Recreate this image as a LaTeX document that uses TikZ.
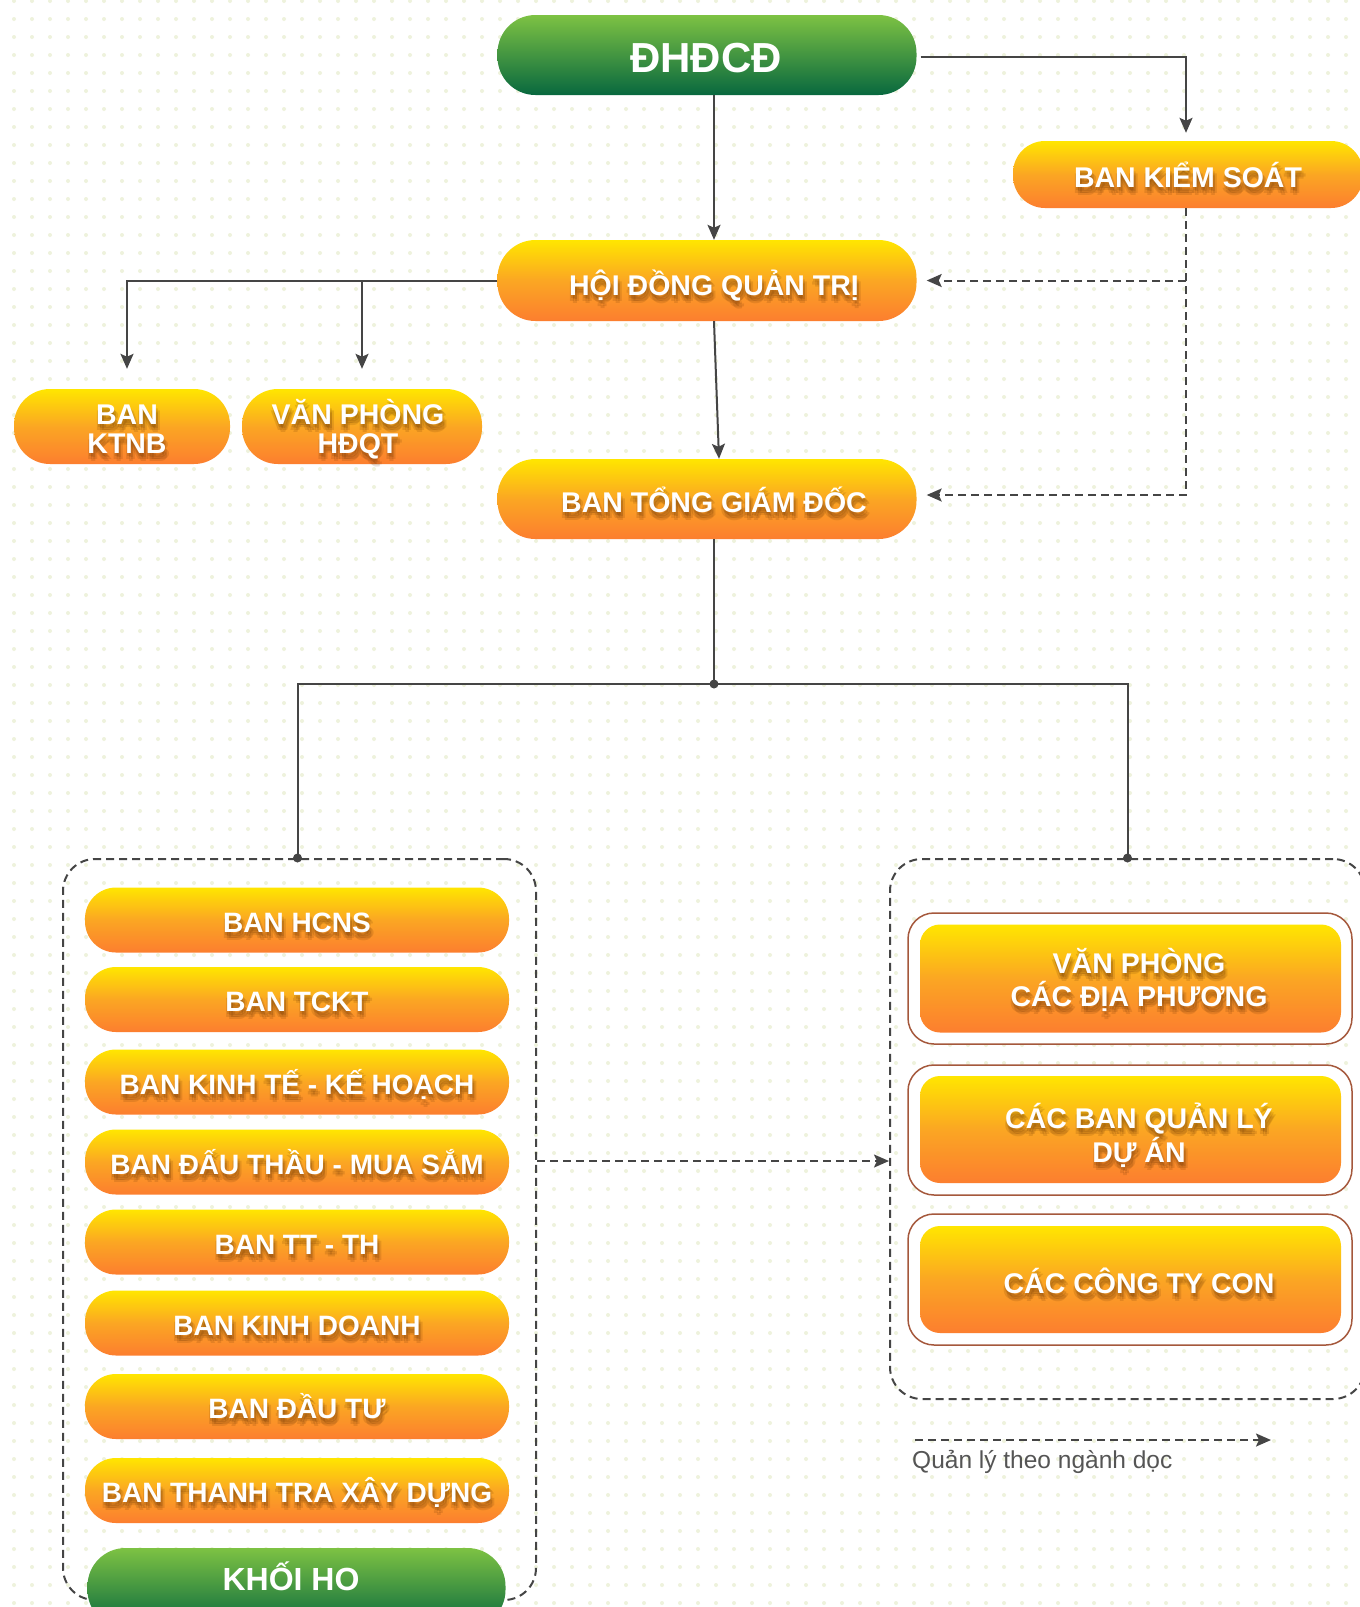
\documentclass[tikz,border=0pt]{standalone}
\usepackage{fontspec}
\setmainfont{Liberation Sans}
\usetikzlibrary{arrows.meta, positioning, calc}
\definecolor{CYellow}{HTML}{FFE600}
\definecolor{COrangeMid}{HTML}{FBA623}
\definecolor{COrange}{HTML}{FC7E2F}
\definecolor{CGreenTop}{HTML}{7DC243}
\definecolor{CGreenBot}{HTML}{08683F}
\definecolor{CLine}{HTML}{454545}
\definecolor{CDot}{HTML}{EEF2DC}
\definecolor{CFrame}{HTML}{A5583C}
\definecolor{CShadow}{HTML}{5A2800}
\definecolor{CLegend}{HTML}{555555}

\tikzset{
    orgpill/.style={rectangle, inner sep=0pt, draw=none,
        top color=CYellow, bottom color=COrange, middle color=COrangeMid},
    greenpill/.style={rectangle, inner sep=0pt, draw=none,
        top color=CGreenTop, bottom color=CGreenBot},
    grpbox/.style={rectangle, inner sep=0pt, draw=CLine, line width=2pt,
        dash pattern=on 8pt off 5pt, rounded corners=32pt},
    framebox/.style={rectangle, inner sep=0pt, draw=CFrame, line width=1.5pt,
        fill=white, rounded corners=26pt},
    lbl/.style={text=white, font=\fontsize{28.5}{29}\selectfont\bfseries,
        align=center, inner sep=0pt, anchor=base},
    lblshadow/.style={lbl, text=CShadow, text opacity=0.14},
    conn/.style={draw=CLine, line width=2pt,
        -{Stealth[length=15pt, width=13pt, inset=3pt]}},
    dconn/.style={conn, dash pattern=on 8pt off 5pt},
}

% label with a soft shadow behind the text (base = last line)
\newcommand{\boxtext}[5][]{%
    \foreach \k/\dx/\dy in {1/0/3, 2/2/4, 3/4/6, 4/-1/6, 5/2/8} {
        \node[lblshadow,#1] (#2-sh\k) at ({#3+\dx},{#4+\dy}) {#5};
    }
    \node[lbl,#1] (#2-txt) at (#3,#4) {#5};
}

\begin{document}
\begin{tikzpicture}[x=1pt, y=-1pt]
    \useasboundingbox (0,0) rectangle (1360,1607);
    \fill[white] (0,0) rectangle (1360,1607);

    % Dot grid
    \foreach \j in {0,...,89} {
        \fill[CDot] \foreach \i in {0,...,75} {(14+18*\i, 1+18*\j) circle (2pt)};
    }

    % Top level
    \node[greenpill, minimum width=419pt, minimum height=80pt, rounded corners=38pt] (dhdcd) at (707,55) {};
    \node[lbl, font=\fontsize{42}{42}\selectfont\bfseries] (dhdcd-txt) at (706,72) {ĐHĐCĐ};

    \node[orgpill, minimum width=350pt, minimum height=67pt, rounded corners=32pt] (bks) at (1188,174.5) {};
    \boxtext{bks}{1188}{187}{BAN KIỂM SOÁT}

    \node[orgpill, minimum width=419pt, minimum height=81pt, rounded corners=38pt] (hdqt) at (707,280.5) {};
    \boxtext{hdqt}{714}{295}{HỘI ĐỒNG QUẢN TRỊ}

    \node[orgpill, minimum width=216pt, minimum height=75pt, rounded corners=36pt] (ktnb) at (122,426.5) {};
    \boxtext{ktnb}{127}{453}{BAN\\KTNB}

    \node[orgpill, minimum width=240pt, minimum height=75pt, rounded corners=36pt] (vphdqt) at (362,426.5) {};
    \boxtext{vphdqt}{358}{453}{VĂN PHÒNG\\HĐQT}

    \node[orgpill, minimum width=419pt, minimum height=80pt, rounded corners=38pt] (btgd) at (707,499) {};
    \boxtext{btgd}{714}{512}{BAN TỔNG GIÁM ĐỐC}

    % Groups
    \node[grpbox, minimum width=473pt, minimum height=741pt] (khoiho-grp) at (299.5,1229.5) {};
    \node[grpbox, minimum width=475pt, minimum height=540pt] (dp-grp) at (1127.5,1129) {};

    % Khoi HO
    \foreach \nm/\yy/\txt in {hcns/920/BAN HCNS, tckt/999.5/BAN TCKT,
            ktkh/1082/BAN KINH TẾ - KẾ HOẠCH, dtms/1162/BAN ĐẤU THẦU - MUA SẮM,
            ttth/1242/BAN TT - TH, kd/1323/BAN KINH DOANH,
            dt/1406.5/BAN ĐẦU TƯ, ttxd/1490.5/BAN THANH TRA XÂY DỰNG} {
        \node[orgpill, minimum width=424pt, minimum height=65pt, rounded corners=31pt] (\nm) at (297,\yy) {};
        \boxtext[font=\fontsize{28}{29}\selectfont\bfseries]{\nm}{297}{\yy+12}{\txt}
    }
    \node[greenpill, minimum width=418pt, minimum height=80pt, rounded corners=38pt] (khoiho) at (296.5,1588) {};
    \node[lbl, font=\fontsize{32}{32}\selectfont\bfseries] (khoiho-txt) at (291,1590) {KHỐI HO};

    % Don vi
    \node[framebox, minimum width=444pt, minimum height=131pt] (vpdp-f) at (1130,978.5) {};
    \node[orgpill, minimum width=421pt, minimum height=108pt, rounded corners=20pt] (vpdp) at (1130.5,978.5) {};
    \boxtext[font=\fontsize{28.5}{33}\selectfont\bfseries]{vpdp}{1139}{1006}{VĂN PHÒNG\\CÁC ĐỊA PHƯƠNG}

    \node[framebox, minimum width=444pt, minimum height=130pt] (bqlda-f) at (1130,1130) {};
    \node[orgpill, minimum width=421pt, minimum height=107pt, rounded corners=20pt] (bqlda) at (1130.5,1129.5) {};
    \boxtext[font=\fontsize{28.5}{34}\selectfont\bfseries]{bqlda}{1139}{1162}{CÁC BAN QUẢN LÝ\\DỰ ÁN}

    \node[framebox, minimum width=444pt, minimum height=131pt] (ctc-f) at (1130,1279.5) {};
    \node[orgpill, minimum width=421pt, minimum height=107pt, rounded corners=20pt] (ctc) at (1130.5,1279.5) {};
    \boxtext{ctc}{1139}{1293}{CÁC CÔNG TY CON}

    % Connectors
    \draw[conn] ([xshift=7pt]dhdcd.south) -- ([xshift=7pt]hdqt.north);
    \draw[conn] ([xshift=7pt]hdqt.south) -- ([xshift=12pt]btgd.north);
    \draw[conn] ([shift={(4pt,-2pt)}]dhdcd.east) -| ([shift={(-2pt,8pt)}]bks.north);
    \draw[conn] (hdqt.west) -| ([shift={(5pt,20pt)}]ktnb.north);
    \draw[conn] (hdqt.west -| vphdqt.north) -- ([yshift=20pt]vphdqt.north);

    \draw[dconn] ([xshift=-2pt]bks.south) |- ([shift={(10pt,4pt)}]btgd.east);
    \draw[dconn] ([xshift=-2pt]bks.south |- hdqt.east) -- ([xshift=10pt]hdqt.east);

    \coordinate (hub) at (714,684);
    \draw[CLine, line width=2pt] ([xshift=7pt]btgd.south) -- (hub);
    \draw[CLine, line width=2pt] ([xshift=-2pt]khoiho-grp.north) |- (hub) -| (dp-grp.north);
    \fill[CLine] (hub) circle (4.5pt);
    \fill[CLine] ([xshift=-2pt]khoiho-grp.north) circle (4.5pt);
    \fill[CLine] (dp-grp.north) circle (4.5pt);

    \draw[dconn] ([yshift=68.5pt]khoiho-grp.east) -- ([yshift=68.5pt]khoiho-grp.east -| dp-grp.west);

    % Legend
    \coordinate (leg-a) at (915,1440);
    \coordinate (leg-b) at (1271,1440);
    \draw[dconn] (leg-a) -- (leg-b);
    \node[anchor=base west, inner sep=0pt, text=CLegend, font=\fontsize{24.5}{24.5}\selectfont] (leg-txt) at (912,1468) {Quản lý theo ngành dọc};
\end{tikzpicture}
\end{document}
